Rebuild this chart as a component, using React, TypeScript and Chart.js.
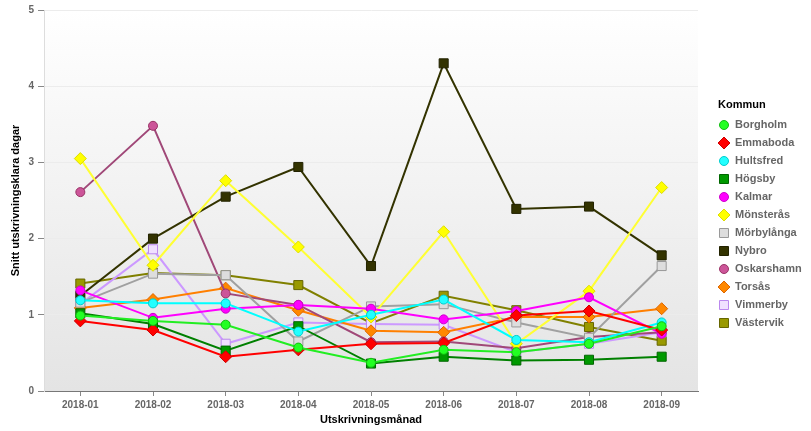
import React, { useEffect, useRef } from 'react';
import { Chart, registerables } from 'chart.js';

Chart.register(...registerables);

const months = ['2018-01', '2018-02', '2018-03', '2018-04', '2018-05', '2018-06', '2018-07', '2018-08', '2018-09'];
const yTicks = [0, 1, 2, 3, 4, 5];

const borgholm = [0.99, 0.92, 0.87, 0.57, 0.37, 0.54, 0.51, 0.62, 0.85];
const emmaboda = [0.92, 0.80, 0.45, 0.54, 0.62, 0.63, 0.99, 1.05, 0.80];
const hultsfred = [1.19, 1.15, 1.15, 0.78, 1.0, 1.2, 0.67, 0.64, 0.90];
const hogsby = [1.02, 0.88, 0.53, 0.85, 0.36, 0.45, 0.40, 0.41, 0.45];
const kalmar = [1.32, 0.96, 1.08, 1.13, 1.08, 0.94, 1.05, 1.23, 0.75];
const monsteras = [3.05, 1.65, 2.76, 1.89, 0.97, 2.09, 0.62, 1.31, 2.67];
const morbylanga = [1.16, 1.54, 1.52, 0.65, 1.11, 1.14, 0.90, 0.70, 1.64];
const nybro = [1.25, 2.0, 2.55, 2.94, 1.64, 4.30, 2.39, 2.42, 1.78];
const oskarshamn = [2.61, 3.48, 1.28, 1.13, 0.64, 0.65, 0.56, 0.71, 0.77];
const torsas = [1.09, 1.20, 1.35, 1.06, 0.79, 0.77, 0.97, 0.97, 1.08];
const vimmerby = [1.14, 1.86, 0.62, 0.90, 0.88, 0.87, 0.51, 0.62, 0.77];
const vastervik = [1.41, 1.55, 1.52, 1.39, 0.89, 1.25, 1.06, 0.84, 0.66];

const FONT = "'Liberation Sans', Arial, sans-serif";

type Style = 'circle' | 'rect' | 'rectRot';
interface Serie { label: string; data: number[]; line: string; fill: string; edge: string; style: Style; }

const series: Serie[] = [
  { label: 'Borgholm', data: borgholm, line: '#22ee22', fill: '#22ff22', edge: '#11bb11', style: 'circle' },
  { label: 'Emmaboda', data: emmaboda, line: '#ff0000', fill: '#ff0000', edge: '#cc0000', style: 'rectRot' },
  { label: 'Hultsfred', data: hultsfred, line: '#00ffff', fill: '#22ffff', edge: '#00cccc', style: 'circle' },
  { label: 'Högsby', data: hogsby, line: '#008000', fill: '#009900', edge: '#006600', style: 'rect' },
  { label: 'Kalmar', data: kalmar, line: '#ff00ff', fill: '#ff00ff', edge: '#cc00cc', style: 'circle' },
  { label: 'Mönsterås', data: monsteras, line: '#ffff33', fill: '#ffff00', edge: '#dddd00', style: 'rectRot' },
  { label: 'Mörbylånga', data: morbylanga, line: '#a0a0a0', fill: '#dddddd', edge: '#999999', style: 'rect' },
  { label: 'Nybro', data: nybro, line: '#333300', fill: '#333300', edge: '#222200', style: 'rect' },
  { label: 'Oskarshamn', data: oskarshamn, line: '#a04878', fill: '#cc5599', edge: '#993366', style: 'circle' },
  { label: 'Torsås', data: torsas, line: '#ff7f00', fill: '#ff8800', edge: '#dd6600', style: 'rectRot' },
  { label: 'Vimmerby', data: vimmerby, line: '#cc99ff', fill: '#f0e0ff', edge: '#bb88ee', style: 'rect' },
  { label: 'Västervik', data: vastervik, line: '#808000', fill: '#999900', edge: '#666600', style: 'rect' },
];

function drawMarker(ctx: CanvasRenderingContext2D, style: Style, x: number, y: number, fill: string, edge: string) {
  ctx.save();
  ctx.fillStyle = fill;
  ctx.strokeStyle = edge;
  ctx.lineWidth = 1;
  ctx.beginPath();
  if (style === 'circle') {
    ctx.arc(x, y, 4.5, 0, Math.PI * 2);
  } else if (style === 'rect') {
    ctx.rect(x - 4.5, y - 4.5, 9, 9);
  } else {
    ctx.moveTo(x, y - 6);
    ctx.lineTo(x + 6, y);
    ctx.lineTo(x, y + 6);
    ctx.lineTo(x - 6, y);
    ctx.closePath();
  }
  ctx.fill();
  ctx.stroke();
  ctx.restore();
}

export default function App() {
  const ref = useRef<HTMLCanvasElement>(null);

  useEffect(() => {
    if (!ref.current) return;

    const bgPlugin = {
      id: 'plotBg',
      beforeDraw(chart: any) {
        const { ctx, chartArea } = chart;
        const { left, top, right, bottom } = chartArea;
        const g = ctx.createLinearGradient(0, top, 0, bottom);
        g.addColorStop(0, '#ffffff');
        g.addColorStop(1, '#e4e4e4');
        ctx.save();
        ctx.fillStyle = g;
        ctx.fillRect(left, top, right - left, bottom - top);
        ctx.restore();
      },
    };

    const legendPlugin = {
      id: 'sideLegend',
      afterDraw(chart: any) {
        const ctx: CanvasRenderingContext2D = chart.ctx;
        ctx.save();
        ctx.textBaseline = 'middle';
        ctx.textAlign = 'left';
        ctx.font = `bold 11px ${FONT}`;
        ctx.fillStyle = '#000000';
        ctx.fillText('Kommun', 718, 105);
        series.forEach((s, i) => {
          const y = 125 + i * 18;
          drawMarker(ctx, s.style, 724, y, s.fill, s.edge);
          ctx.font = `bold 11px ${FONT}`;
          ctx.fillStyle = '#666666';
          ctx.fillText(s.label, 735, y);
        });
        ctx.restore();
      },
    };

    const chart = new Chart(ref.current, {
      type: 'line',
      data: {
        labels: months,
        datasets: series.map((s) => ({
          label: s.label,
          data: s.data,
          borderColor: s.line,
          backgroundColor: s.fill,
          pointBackgroundColor: s.fill,
          pointBorderColor: s.edge,
          pointBorderWidth: 1,
          pointStyle: s.style,
          pointRadius: s.style === 'rectRot' ? 6 : s.style === 'rect' ? 6.4 : 4.5,
          borderWidth: 2,
          tension: 0,
          fill: false,
        })),
      },
      options: {
        animation: false,
        responsive: false,
        devicePixelRatio: 1,
        layout: { padding: { top: 6, right: 113, left: 0, bottom: 0 } },
        plugins: {
          legend: { display: false },
          tooltip: { enabled: false },
        },
        scales: {
          x: {
            type: 'category',
            offset: true,
            afterFit(scale: any) { scale.height = 40; },
            grid: { drawOnChartArea: false, drawTicks: true, tickLength: 5, tickColor: '#888888', offset: false },
            border: { display: true, color: '#777777', width: 1 },
            ticks: { color: '#666666', font: { family: FONT, size: 10, weight: 'bold' }, padding: 3, maxRotation: 0, autoSkip: false },
            title: { display: true, text: 'Utskrivningsmånad', color: '#000000', font: { family: FONT, size: 11, weight: 'bold' }, padding: { top: 0, bottom: 4 } },
          },
          y: {
            min: 0,
            max: 5,
            afterFit(scale: any) { scale.width = 44; },
            afterBuildTicks(scale: any) { scale.ticks = yTicks.map((v) => ({ value: v })); },
            grid: { color: '#ececec', tickColor: '#888888', tickLength: 6, lineWidth: 1 },
            border: { display: true, color: '#dddddd', width: 1 },
            ticks: { color: '#666666', font: { family: FONT, size: 10, weight: 'bold' }, padding: 4 },
            title: { display: true, text: 'Snitt utskrivningsklara dagar', color: '#000000', font: { family: FONT, size: 11, weight: 'bold' }, padding: { top: 9, bottom: 0 } },
          },
        },
      },
      plugins: [bgPlugin, legendPlugin],
    } as any);

    return () => chart.destroy();
  }, []);

  return (
    <div style={{ position: 'absolute', left: 0, top: 0, width: 811, height: 431, background: '#ffffff' }}>
      <canvas ref={ref} width={811} height={431} style={{ display: 'block' }} />
    </div>
  );
}
